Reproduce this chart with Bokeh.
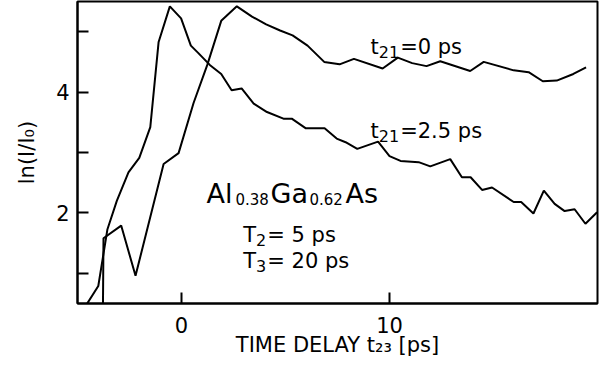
from bokeh.plotting import figure
from bokeh.models import Label, FixedTicker, Range1d
from bokeh.embed import file_html
from bokeh.resources import INLINE

# Data (time delay t23 in ps, ln(I/I0))
delay_t21_0ps = [-3.78, -3.75, -2.90, -2.21, -0.86, -0.14, 0.58, 1.24, 1.91, 2.66, 3.39,
                 4.07, 4.74, 5.34, 6.06, 6.86, 7.60, 8.29, 9.67, 10.40, 11.09, 11.78,
                 12.44, 13.88, 14.53, 15.97, 16.69, 17.37, 18.04, 18.84, 19.45]
lnI_t21_0ps = [0.30, 1.58, 1.79, 0.96, 2.81, 2.99, 3.82, 4.45, 5.18, 5.42, 5.25,
               5.12, 5.02, 4.94, 4.77, 4.50, 4.46, 4.55, 4.39, 4.57, 4.48, 4.43,
               4.51, 4.35, 4.50, 4.36, 4.33, 4.18, 4.19, 4.30, 4.41]

delay_t21_2p5ps = [-4.55, -4.00, -3.56, -3.11, -2.55, -2.03, -1.50, -1.10, -0.56, -0.02,
                   0.45, 0.80, 1.36, 1.91, 2.41, 2.89, 3.47, 4.11, 4.90, 5.30, 5.98,
                   6.88, 7.46, 7.89, 8.45, 9.45, 10.00, 10.53, 11.40, 11.96, 12.92,
                   13.48, 13.90, 14.45, 14.93, 15.97, 16.33, 16.92, 17.42, 17.94,
                   18.42, 18.90, 19.42, 19.98]
lnI_t21_2p5ps = [0.49, 0.79, 1.73, 2.20, 2.67, 2.91, 3.42, 4.83, 5.42, 5.22,
                 4.77, 4.65, 4.45, 4.30, 4.03, 4.06, 3.81, 3.67, 3.56, 3.56, 3.40,
                 3.40, 3.23, 3.17, 3.06, 3.18, 2.94, 2.86, 2.84, 2.77, 2.89,
                 2.59, 2.59, 2.38, 2.42, 2.18, 2.18, 1.99, 2.37, 2.15,
                 2.03, 2.06, 1.82, 2.01]

x_ticks = [0, 10]
y_ticks = [1, 2, 3, 4, 5]
y_tick_labels = {1: "", 2: "2", 3: "", 4: "4", 5: ""}

FONT = "DejaVu Sans"
# DejaVu Sans advance widths (em) for composing sub-scripted labels
ADV = {"0": .636, "1": .636, "2": .636, "3": .636, "5": .636, "6": .636, "8": .636,
       ".": .318, " ": .318, "=": .838, "p": .635, "s": .521, "t": .392, "T": .611}

p = figure(width=599, height=366, x_range=Range1d(-5, 20), y_range=Range1d(0.5, 5.5),
           output_backend="svg", toolbar_location=None,
           min_border_left=77, min_border_right=2, min_border_top=1, min_border_bottom=63)

p.grid.visible = False
p.outline_line_color = "black"
p.outline_line_width = 2
p.outline_line_alpha = 1
p.background_fill_color = "white"
p.border_fill_color = "white"

for ax in (p.xaxis[0], p.yaxis[0]):
    ax.axis_line_width = 2
    ax.axis_line_color = "black"
    ax.major_tick_in = 11
    ax.major_tick_out = 0
    ax.major_tick_line_width = 2
    ax.major_tick_line_color = "black"
    ax.minor_tick_in = 0
    ax.minor_tick_out = 0
    ax.major_label_text_font = FONT
    ax.major_label_text_font_size = "21px"
    ax.major_label_text_color = "black"
    ax.axis_label_text_font = FONT
    ax.axis_label_text_font_style = "normal"
    ax.axis_label_text_font_size = "21px"
    ax.axis_label_text_color = "black"

p.xaxis.ticker = FixedTicker(ticks=x_ticks)
p.yaxis.ticker = FixedTicker(ticks=y_ticks)
p.yaxis.major_label_overrides = y_tick_labels
p.xaxis.major_label_standoff = 13
p.yaxis.major_label_standoff = 8
p.xaxis.axis_label = "TIME DELAY t\u2082\u2083 [ps]"
p.yaxis.axis_label = "ln(I/I\u2080)"
p.xaxis.axis_label_standoff = -3
p.yaxis.axis_label_standoff = 14

p.line(delay_t21_0ps, lnI_t21_0ps, line_color="black", line_width=2)
p.line(delay_t21_2p5ps, lnI_t21_2p5ps, line_color="black", line_width=2)


def lab(text, x, y, size, xo=0, yo=0):
    p.add_layout(Label(x=x, y=y, x_offset=xo, y_offset=yo, text=text,
                       text_font=FONT, text_font_size=f"{size}px", text_color="black",
                       text_align="left", text_baseline="alphabetic"))


def composed(pieces, x, y):
    """pieces: list of (text, size_px, is_subscript)"""
    off = 0.0
    for text, size, sub in pieces:
        lab(text, x, y, size, xo=off, yo=-5 if sub else 0)
        off += sum(ADV.get(c, .6) for c in text) * size + (1 if sub else 0)


composed([("t", 21, False), ("21", 16, True), ("=0 ps", 21, False)], 9.09, 4.75)
composed([("t", 21, False), ("21", 16, True), ("=2.5 ps", 21, False)], 9.09, 3.36)
composed([("T", 21, False), ("2", 16, True), (" = 5 ps", 21, False)], 2.97, 1.64)
composed([("T", 21, False), ("3", 16, True), (" = 20 ps", 21, False)], 2.97, 1.21)

# Al0.38Ga0.62As
cx, cy = 1.20, 2.32
lab("Al", cx, cy, 27, xo=0)
lab("0.38", cx, cy, 15, xo=29, yo=-5)
lab("Ga", cx, cy, 27, xo=64)
lab("0.62", cx, cy, 15, xo=103, yo=-5)
lab("As", cx, cy, 27, xo=139)

open("out.html", "w").write(file_html(p, INLINE))
